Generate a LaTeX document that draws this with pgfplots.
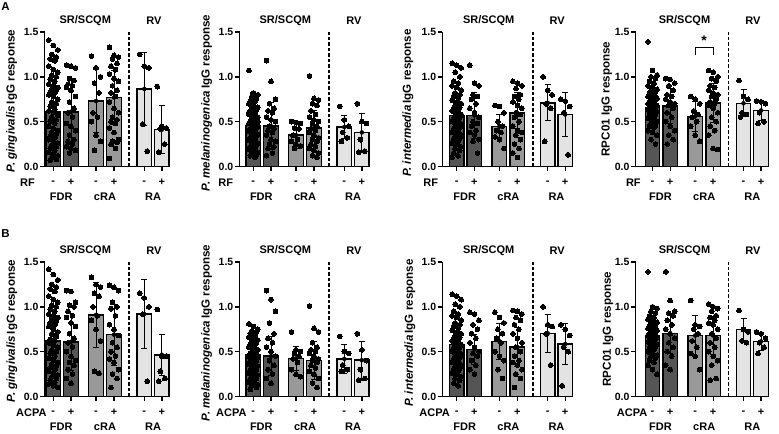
\documentclass[border=0pt]{standalone}
\usepackage{pgfplots}
\pgfplotsset{compat=1.18}
\usepackage{fontspec}
\setmainfont{Liberation Sans}
\newcommand\fs[1]{\fontsize{#1bp}{#1bp}\selectfont\bfseries}
\definecolor{cF}{HTML}{555555}
\definecolor{cC}{HTML}{999999}
\definecolor{cR}{HTML}{E3E3E3}
\pgfplotsset{
  pnl/.style={x=1bp, y=89.67bp, anchor=origin, xmax=115.8, ymin=0, ymax=1.5,
    enlargelimits=false, axis lines*=left, axis line style={line width=1.5bp, black},
    ytick={0,0.5,1,1.5}, yticklabels={0.0,0.5,1.0,1.5},
    xtick={0,17.7,42.7,60.7,91,108.5}, xticklabels={},
    tick style={line width=1.4bp, black}, major tick length=4.5bp, tick align=outside,
    yticklabel style={font=\fs{10.5}, inner sep=1.5bp}, clip=false},
  barF/.style={ybar, bar width=14.5bp, bar shift=0pt, fill=cF, draw=black, line width=1.4bp},
  barC/.style={ybar, bar width=14.5bp, bar shift=0pt, fill=cC, draw=black, line width=1.4bp},
  barR/.style={ybar, bar width=14.5bp, bar shift=0pt, fill=cR, draw=black, line width=1.4bp},
  errs/.style={only marks, mark=none, error bars/.cd, y dir=both, y explicit,
    error bar style={line width=1bp, black},
    error mark options={rotate=90, mark size=3bp, line width=1bp, black}},
  dashln/.style={black, line width=1.8bp, dash pattern=on 3.5bp off 2bp},
}
\newcommand\dotsat[2]{\addplot[only marks, mark=*, mark size=2.4bp, mark options={fill=black, draw=black, line width=0pt}]
  table[row sep=\\, y index=0, x expr={#1+1.5*(mod(3*\coordindex,7)-3)}] {#2\\};}
\newcommand\pnltext[7]{%
 \begin{scope}[shift={(#1bp,-#2bp)}]
  \foreach \xx/\ss in {0/-,17.7/+,42.7/-,60.7/+,91/-,108.5/+}{\node[font=\fs{11}] at (\xx bp,-15.8bp) {\ss};}
  \node[font=\fs{11}] at (8bp,-30.2bp) {FDR};
  \node[font=\fs{11}] at (51.7bp,-30.2bp) {cRA};
  \node[font=\fs{11}] at (99.75bp,-30.2bp) {RA};
  \node[font=\fs{11}, anchor=east, inner sep=0pt] at (#4bp,-15.8bp) {#3};
  \node[font=\fs{11}] at (32bp,145.7bp) {SR/SCQM};
  \node[font=\fs{11}] at (100.5bp,145.7bp) {RV};
 \end{scope}
 \node[font=\fs{11.6}, rotate=90] at (#6bp,-#7bp) {#5};
}
\begin{document}
\begin{tikzpicture}
\path[use as bounding box] (0,0) rectangle (779bp,-434bp);
\node[font=\fs{11.5}] at (5.5bp,-6.5bp) {A};
\node[font=\fs{11.5}] at (5.5bp,-234bp) {B};
%================ A1
\begin{axis}[pnl, at={(53.3bp,-166.5bp)}, xmin=-8.6]
\addplot[barF] coordinates {(0,0.61) (17.7,0.61)};
\addplot[barC] coordinates {(42.7,0.73) (60.7,0.77)};
\addplot[barR] coordinates {(91,0.865) (108.5,0.41)};
\dotsat{0}{1.41\\1.35\\1.30\\1.25\\1.22\\1.20\\1.18\\1.12\\1.08\\1.05\\1.02\\1.00\\0.97\\0.95\\0.92\\0.90\\0.88\\0.86\\0.85\\0.83\\0.82\\0.80\\0.78\\0.75\\0.72\\0.70\\0.67\\0.64\\0.62\\0.60\\0.57\\0.55\\0.52\\0.50\\0.48\\0.45\\0.43\\0.40\\0.38\\0.36\\0.34\\0.32\\0.30\\0.28\\0.26\\0.24\\0.22\\0.20\\0.18\\0.16\\0.14\\0.12\\0.10\\0.08\\0.07\\0.85}
\dotsat{17.7}{1.13\\1.12\\1.10\\0.98\\0.96\\0.92\\0.90\\0.88\\0.85\\0.78\\0.72\\0.65\\0.60\\0.55\\0.48\\0.45\\0.40\\0.35\\0.30\\0.28\\0.25\\0.22\\0.20\\0.18\\0.15}
\dotsat{42.7}{1.23\\1.10\\1.00\\0.93\\0.82\\0.60\\0.55\\0.50\\0.35\\0.28\\0.18}
\dotsat{60.7}{1.33\\1.24\\1.22\\1.20\\1.15\\1.12\\1.08\\1.03\\0.98\\0.95\\0.90\\0.85\\0.82\\0.78\\0.72\\0.65\\0.60\\0.55\\0.52\\0.50\\0.48\\0.43\\0.38\\0.30\\0.28\\0.27\\0.25\\0.20\\0.09}
\dotsat{91}{1.25\\1.12\\1.10\\0.47\\0.17}
\dotsat{108.5}{0.89\\0.45\\0.43\\0.42\\0.25\\0.16}
\addplot[errs] coordinates {(0,0.61)+-(0,0.30) (17.7,0.61)+-(0,0.37) (42.7,0.73)+-(0,0.35) (60.7,0.77)+-(0,0.30) (91,0.865)+-(0,0.41) (108.5,0.41)+-(0,0.27)};
\addplot[dashln] coordinates {(76,0) (76,1.5)};
\end{axis}
%================ A2
\begin{axis}[pnl, at={(253.3bp,-166.5bp)}, xmin=-13.8]
\addplot[barF] coordinates {(0,0.46) (17.7,0.45)};
\addplot[barC] coordinates {(42.7,0.35) (60.7,0.43)};
\addplot[barR] coordinates {(91,0.44) (108.5,0.38)};
\dotsat{0}{1.07\\0.82\\0.80\\0.78\\0.75\\0.73\\0.72\\0.70\\0.68\\0.66\\0.65\\0.63\\0.62\\0.60\\0.58\\0.57\\0.55\\0.54\\0.52\\0.50\\0.49\\0.48\\0.47\\0.45\\0.44\\0.43\\0.42\\0.40\\0.39\\0.38\\0.36\\0.35\\0.34\\0.32\\0.30\\0.29\\0.28\\0.26\\0.25\\0.24\\0.22\\0.20\\0.19\\0.18\\0.16\\0.15\\0.13\\0.12\\0.10\\0.60\\0.55\\0.50}
\dotsat{17.7}{1.18\\0.95\\0.75\\0.70\\0.65\\0.62\\0.60\\0.55\\0.52\\0.50\\0.45\\0.42\\0.40\\0.38\\0.35\\0.30\\0.28\\0.25\\0.22\\0.20\\0.15\\0.12}
\dotsat{42.7}{0.50\\0.49\\0.48\\0.43\\0.42\\0.35\\0.30\\0.28\\0.25\\0.23\\0.20}
\dotsat{60.7}{1.01\\0.76\\0.74\\0.70\\0.68\\0.62\\0.58\\0.55\\0.52\\0.50\\0.48\\0.45\\0.42\\0.40\\0.38\\0.35\\0.32\\0.30\\0.28\\0.25\\0.22\\0.20\\0.18\\0.15\\0.12\\0.10}
\dotsat{91}{0.67\\0.52\\0.45\\0.38\\0.32\\0.28}
\dotsat{108.5}{0.70\\0.50\\0.48\\0.30\\0.17\\0.16}
\addplot[errs] coordinates {(0,0.46)+-(0,0.17) (17.7,0.45)+-(0,0.26) (42.7,0.35)+-(0,0.15) (60.7,0.43)+-(0,0.20) (91,0.44)+-(0,0.13) (108.5,0.38)+-(0,0.21)};
\addplot[dashln] coordinates {(76,0) (76,1.5)};
\end{axis}
%================ A3
\begin{axis}[pnl, at={(456.7bp,-166.5bp)}, xmin=-14.4]
\addplot[barF] coordinates {(0,0.57) (17.7,0.57)};
\addplot[barC] coordinates {(42.7,0.445) (60.7,0.595)};
\addplot[barR] coordinates {(91,0.71) (108.5,0.58)};
\dotsat{0}{1.15\\1.13\\1.10\\1.05\\1.00\\0.95\\0.93\\0.90\\0.88\\0.85\\0.82\\0.80\\0.78\\0.76\\0.74\\0.72\\0.70\\0.68\\0.66\\0.65\\0.63\\0.62\\0.60\\0.58\\0.57\\0.55\\0.54\\0.52\\0.50\\0.48\\0.47\\0.45\\0.43\\0.42\\0.40\\0.38\\0.36\\0.35\\0.33\\0.31\\0.30\\0.28\\0.26\\0.25\\0.22\\0.20\\0.18\\0.15\\0.12\\0.10}
\dotsat{17.7}{1.13\\0.93\\0.90\\0.80\\0.78\\0.75\\0.70\\0.65\\0.60\\0.55\\0.50\\0.48\\0.45\\0.40\\0.38\\0.35\\0.30\\0.28\\0.15}
\dotsat{42.7}{0.68\\0.67\\0.60\\0.50\\0.45\\0.40\\0.38\\0.33\\0.30\\0.20}
\dotsat{60.7}{0.95\\0.93\\0.90\\0.87\\0.80\\0.78\\0.75\\0.72\\0.68\\0.65\\0.60\\0.58\\0.55\\0.50\\0.45\\0.40\\0.38\\0.35\\0.30\\0.25\\0.20\\0.15\\0.10}
\dotsat{91}{1.00\\0.85\\0.80\\0.70\\0.65\\0.28}
\dotsat{108.5}{0.75\\0.73\\0.67\\0.60\\0.13}
\addplot[errs] coordinates {(0,0.57)+-(0,0.20) (17.7,0.57)+-(0,0.26) (42.7,0.445)+-(0,0.13) (60.7,0.595)+-(0,0.23) (91,0.71)+-(0,0.20) (108.5,0.58)+-(0,0.24)};
\addplot[dashln] coordinates {(76,0) (76,1.5)};
\end{axis}
%================ A4
\begin{axis}[pnl, at={(652.5bp,-166.5bp)}, xmin=-16.8]
\addplot[barF] coordinates {(0,0.66) (17.7,0.675)};
\addplot[barC] coordinates {(42.7,0.56) (60.7,0.71)};
\addplot[barR] coordinates {(91,0.705) (108.5,0.625)};
\dotsat{0}{1.39\\1.07\\1.02\\1.00\\0.98\\0.95\\0.93\\0.90\\0.88\\0.86\\0.85\\0.83\\0.82\\0.80\\0.78\\0.77\\0.76\\0.75\\0.74\\0.72\\0.71\\0.70\\0.69\\0.68\\0.67\\0.66\\0.65\\0.64\\0.63\\0.62\\0.61\\0.60\\0.58\\0.57\\0.55\\0.54\\0.52\\0.50\\0.48\\0.46\\0.45\\0.43\\0.40\\0.38\\0.35\\0.30\\0.25}
\dotsat{17.7}{0.98\\0.97\\0.93\\0.90\\0.85\\0.80\\0.78\\0.75\\0.72\\0.70\\0.68\\0.65\\0.60\\0.55\\0.50\\0.45\\0.40\\0.35\\0.30\\0.25}
\dotsat{42.7}{0.78\\0.75\\0.70\\0.62\\0.58\\0.55\\0.50\\0.45\\0.35\\0.28}
\dotsat{60.7}{1.07\\1.05\\1.00\\0.98\\0.95\\0.90\\0.88\\0.85\\0.82\\0.80\\0.78\\0.75\\0.72\\0.70\\0.68\\0.65\\0.60\\0.55\\0.50\\0.45\\0.40\\0.35\\0.20\\0.19}
\dotsat{91}{0.96\\0.78\\0.75\\0.60\\0.58\\0.55}
\dotsat{108.5}{0.73\\0.72\\0.70\\0.60\\0.50\\0.48}
\addplot[errs] coordinates {(0,0.66)+-(0,0.18) (17.7,0.675)+-(0,0.20) (42.7,0.56)+-(0,0.17) (60.7,0.71)+-(0,0.22) (91,0.705)+-(0,0.15) (108.5,0.625)+-(0,0.11)};
\addplot[dashln] coordinates {(76,0) (76,1.5)};
\draw[line width=1bp] (axis cs:42.7,1.24) |- (axis cs:60.7,1.33) -- (axis cs:60.7,1.24);
\node[font=\fs{14}] at (axis cs:51.7,1.40) {*};
\end{axis}
%================ B1
\begin{axis}[pnl, at={(53.3bp,-396.5bp)}, xmin=-8.6]
\addplot[barF] coordinates {(0,0.62) (17.7,0.61)};
\addplot[barC] coordinates {(42.7,0.91) (60.7,0.69)};
\addplot[barR] coordinates {(91,0.92) (108.5,0.465)};
\dotsat{0}{1.42\\1.36\\1.30\\1.25\\1.22\\1.20\\1.17\\1.12\\1.08\\1.05\\1.02\\1.00\\0.97\\0.95\\0.92\\0.90\\0.88\\0.86\\0.84\\0.82\\0.80\\0.78\\0.75\\0.72\\0.70\\0.67\\0.64\\0.62\\0.60\\0.57\\0.55\\0.52\\0.50\\0.48\\0.45\\0.43\\0.40\\0.38\\0.36\\0.34\\0.32\\0.30\\0.28\\0.26\\0.24\\0.22\\0.20\\0.18\\0.16\\0.14\\0.12\\0.10\\0.88\\0.85}
\dotsat{17.7}{1.18\\1.17\\1.05\\1.02\\1.00\\0.95\\0.90\\0.88\\0.82\\0.78\\0.70\\0.65\\0.60\\0.55\\0.50\\0.45\\0.40\\0.38\\0.35\\0.30\\0.25\\0.20\\0.15}
\dotsat{42.7}{1.33\\1.25\\1.22\\1.15\\1.12\\1.00\\0.90\\0.85\\0.75\\0.62\\0.28\\0.26}
\dotsat{60.7}{1.24\\1.22\\1.18\\1.05\\1.00\\0.98\\0.90\\0.80\\0.75\\0.68\\0.60\\0.55\\0.50\\0.45\\0.42\\0.38\\0.30\\0.25\\0.20\\0.10}
\dotsat{91}{1.15\\1.10\\1.00\\0.92\\0.17}
\dotsat{108.5}{0.97\\0.45\\0.45\\0.28\\0.20\\0.17}
\addplot[errs] coordinates {(0,0.62)+-(0,0.30) (17.7,0.61)+-(0,0.32) (42.7,0.91)+-(0,0.36) (60.7,0.69)+-(0,0.34) (91,0.92)+-(0,0.39) (108.5,0.465)+-(0,0.23)};
\addplot[dashln] coordinates {(76,0) (76,1.5)};
\end{axis}
%================ B2
\begin{axis}[pnl, at={(253.3bp,-396.5bp)}, xmin=-13.8]
\addplot[barF] coordinates {(0,0.465) (17.7,0.45)};
\addplot[barC] coordinates {(42.7,0.425) (60.7,0.40)};
\addplot[barR] coordinates {(91,0.42) (108.5,0.405)};
\dotsat{0}{0.81\\0.78\\0.75\\0.73\\0.72\\0.70\\0.68\\0.66\\0.65\\0.63\\0.62\\0.60\\0.58\\0.57\\0.55\\0.54\\0.52\\0.50\\0.49\\0.48\\0.47\\0.45\\0.44\\0.43\\0.42\\0.40\\0.39\\0.38\\0.36\\0.35\\0.34\\0.32\\0.30\\0.29\\0.28\\0.26\\0.25\\0.24\\0.22\\0.20\\0.19\\0.18\\0.16\\0.15\\0.13\\0.12\\0.10\\0.08\\0.60\\0.55\\0.50}
\dotsat{17.7}{1.18\\1.08\\0.95\\0.82\\0.70\\0.65\\0.60\\0.55\\0.50\\0.45\\0.40\\0.35\\0.30\\0.25\\0.20\\0.15}
\dotsat{42.7}{0.72\\0.52\\0.50\\0.48\\0.45\\0.42\\0.38\\0.30\\0.25\\0.22}
\dotsat{60.7}{1.01\\0.76\\0.72\\0.60\\0.55\\0.52\\0.50\\0.48\\0.45\\0.42\\0.40\\0.38\\0.35\\0.32\\0.28\\0.25\\0.20\\0.15\\0.10}
\dotsat{91}{0.67\\0.50\\0.48\\0.35\\0.30\\0.28}
\dotsat{108.5}{0.70\\0.52\\0.40\\0.30\\0.20\\0.18}
\addplot[errs] coordinates {(0,0.465)+-(0,0.17) (17.7,0.45)+-(0,0.22) (42.7,0.425)+-(0,0.13) (60.7,0.40)+-(0,0.21) (91,0.42)+-(0,0.16) (108.5,0.405)+-(0,0.21)};
\addplot[dashln] coordinates {(76,0) (76,1.5)};
\end{axis}
%================ B3
\begin{axis}[pnl, at={(456.7bp,-396.5bp)}, xmin=-14.4]
\addplot[barF] coordinates {(0,0.58) (17.7,0.525)};
\addplot[barC] coordinates {(42.7,0.615) (60.7,0.55)};
\addplot[barR] coordinates {(91,0.705) (108.5,0.585)};
\dotsat{0}{1.14\\1.12\\1.08\\1.03\\1.00\\0.95\\0.92\\0.90\\0.88\\0.85\\0.82\\0.80\\0.78\\0.76\\0.74\\0.72\\0.70\\0.68\\0.66\\0.65\\0.63\\0.62\\0.60\\0.58\\0.57\\0.55\\0.54\\0.52\\0.50\\0.48\\0.47\\0.45\\0.43\\0.42\\0.40\\0.38\\0.36\\0.35\\0.33\\0.31\\0.30\\0.28\\0.26\\0.25\\0.22\\0.20\\0.18\\0.15\\0.12}
\dotsat{17.7}{0.94\\0.92\\0.85\\0.80\\0.75\\0.70\\0.65\\0.60\\0.55\\0.50\\0.48\\0.45\\0.40\\0.35\\0.30\\0.25}
\dotsat{42.7}{0.94\\0.88\\0.82\\0.75\\0.70\\0.65\\0.60\\0.50\\0.45\\0.40\\0.30\\0.20}
\dotsat{60.7}{0.96\\0.95\\0.92\\0.88\\0.85\\0.80\\0.75\\0.70\\0.65\\0.60\\0.55\\0.50\\0.45\\0.40\\0.38\\0.35\\0.30\\0.25\\0.20\\0.10}
\dotsat{91}{1.00\\0.80\\0.78\\0.70\\0.35}
\dotsat{108.5}{0.80\\0.75\\0.68\\0.55\\0.50\\0.12}
\addplot[errs] coordinates {(0,0.58)+-(0,0.20) (17.7,0.525)+-(0,0.17) (42.7,0.615)+-(0,0.20) (60.7,0.55)+-(0,0.22) (91,0.705)+-(0,0.21) (108.5,0.585)+-(0,0.23)};
\addplot[dashln] coordinates {(76,0) (76,1.5)};
\end{axis}
%================ B4
\begin{axis}[pnl, at={(652.5bp,-396.5bp)}, xmin=-16.8]
\addplot[barF] coordinates {(0,0.68) (17.7,0.705)};
\addplot[barC] coordinates {(42.7,0.68) (60.7,0.68)};
\addplot[barR] coordinates {(91,0.75) (108.5,0.615)};
\dotsat{0}{1.39\\1.00\\0.98\\0.95\\0.93\\0.90\\0.88\\0.86\\0.85\\0.83\\0.82\\0.80\\0.78\\0.77\\0.76\\0.75\\0.74\\0.72\\0.71\\0.70\\0.69\\0.68\\0.67\\0.66\\0.65\\0.64\\0.63\\0.62\\0.61\\0.60\\0.58\\0.57\\0.55\\0.54\\0.52\\0.50\\0.48\\0.46\\0.45\\0.43\\0.40\\0.38\\0.35\\0.30\\0.25}
\dotsat{17.7}{1.39\\1.07\\0.95\\0.93\\0.90\\0.85\\0.80\\0.75\\0.70\\0.65\\0.60\\0.55\\0.50\\0.45\\0.35\\0.30}
\dotsat{42.7}{1.07\\0.80\\0.78\\0.75\\0.70\\0.62\\0.55\\0.48\\0.45\\0.30}
\dotsat{60.7}{1.03\\1.00\\0.98\\0.95\\0.90\\0.88\\0.85\\0.82\\0.80\\0.75\\0.70\\0.65\\0.60\\0.55\\0.50\\0.45\\0.40\\0.35\\0.20\\0.18}
\dotsat{91}{0.96\\0.75\\0.72\\0.62\\0.60}
\dotsat{108.5}{0.72\\0.70\\0.65\\0.60\\0.55\\0.48}
\addplot[errs] coordinates {(0,0.68)+-(0,0.18) (17.7,0.705)+-(0,0.22) (42.7,0.68)+-(0,0.22) (60.7,0.68)+-(0,0.21) (91,0.75)+-(0,0.12) (108.5,0.615)+-(0,0.10)};
\addplot[dashln] coordinates {(76,0) (76,1.5)};
\end{axis}
%================ texts
\pnltext{53.3}{166.5}{RF}{-18.3}{\textit{P. gingivalis}\,IgG response}{11.7}{101}
\pnltext{253.3}{166.5}{RF}{-20}{\textit{P. melaninogenica}\,IgG response}{206.7}{103}
\pnltext{456.7}{166.5}{RF}{-18.4}{\textit{P. intermedia}\,IgG response}{408}{103}
\pnltext{652.5}{166.5}{RF}{-11.6}{RPC01 IgG response}{606.7}{99}
\pnltext{53.3}{396.5}{ACPA}{-6.6}{\textit{P. gingivalis}\,IgG response}{12}{331}
\pnltext{253.3}{396.5}{ACPA}{-6.6}{\textit{P. melaninogenica}\,IgG response}{206.7}{333}
\pnltext{456.7}{396.5}{ACPA}{-6.7}{\textit{P. intermedia}\,IgG response}{410}{333}
\pnltext{652.5}{396.5}{ACPA}{-5}{RPC01 IgG response}{608}{329}
\end{tikzpicture}
\end{document}
